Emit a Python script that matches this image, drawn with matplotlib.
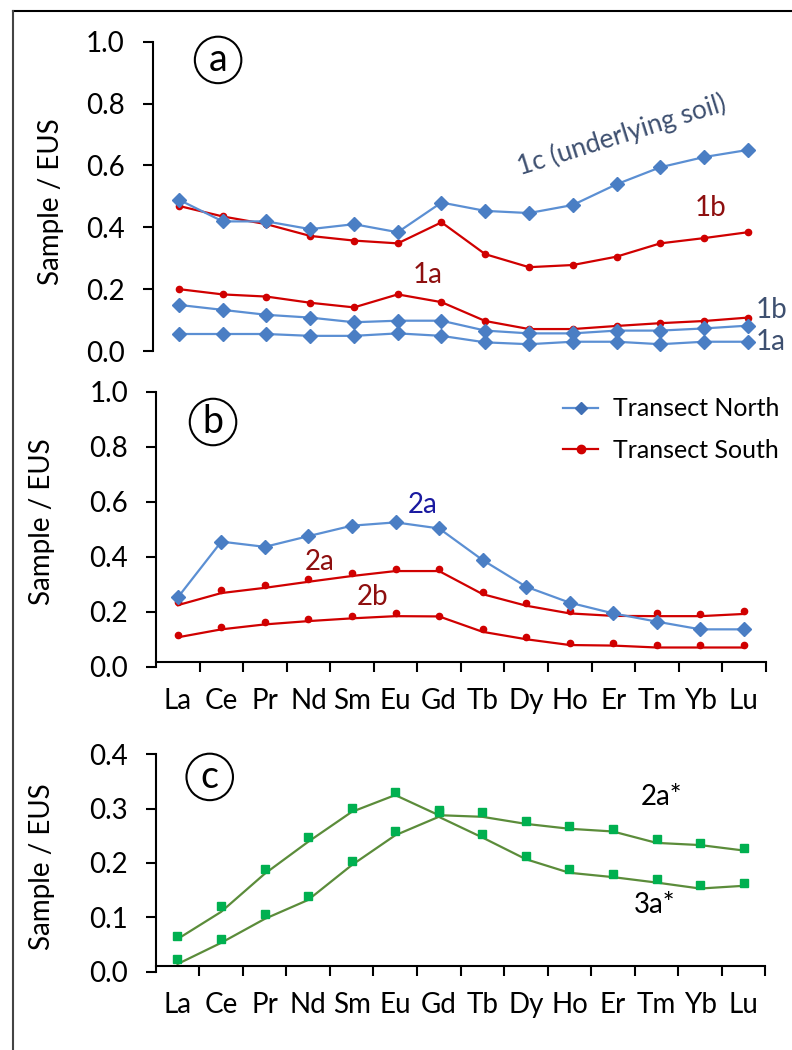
import numpy as np
import matplotlib.pyplot as plt
from matplotlib.lines import Line2D

plt.rcParams['font.family'] = ['Lato', 'DejaVu Sans']

rees = ['La', 'Ce', 'Pr', 'Nd', 'Sm', 'Eu', 'Gd', 'Tb', 'Dy', 'Ho', 'Er', 'Tm', 'Yb', 'Lu']

# panel a
a_north_1c = [0.489, 0.419, 0.419, 0.394, 0.410, 0.384, 0.480, 0.453, 0.446, 0.472, 0.539, 0.594, 0.627, 0.650]
a_north_1b = [0.149, 0.133, 0.117, 0.108, 0.093, 0.098, 0.098, 0.066, 0.057, 0.057, 0.066, 0.066, 0.073, 0.082]
a_north_1a = [0.055, 0.055, 0.055, 0.049, 0.049, 0.057, 0.049, 0.028, 0.022, 0.030, 0.030, 0.022, 0.030, 0.030]
a_south_1b = [0.469, 0.435, 0.410, 0.372, 0.357, 0.348, 0.416, 0.313, 0.271, 0.278, 0.305, 0.348, 0.365, 0.384]
a_south_1a = [0.200, 0.183, 0.176, 0.156, 0.141, 0.183, 0.158, 0.097, 0.071, 0.071, 0.081, 0.090, 0.097, 0.108]

# panel b
b_north_2a = [0.252, 0.455, 0.436, 0.475, 0.513, 0.525, 0.503, 0.388, 0.291, 0.233, 0.194, 0.164, 0.136, 0.136]
b_south_2a_pts = [0.234, 0.279, 0.297, 0.319, 0.340, 0.355, 0.355, 0.273, 0.233, 0.204, 0.188, 0.194, 0.192, 0.204]
b_south_2a_line = [0.224, 0.268, 0.287, 0.309, 0.330, 0.348, 0.348, 0.264, 0.222, 0.194, 0.185, 0.184, 0.184, 0.192]
b_south_2b_pts = [0.115, 0.145, 0.164, 0.173, 0.184, 0.194, 0.184, 0.136, 0.107, 0.087, 0.087, 0.079, 0.079, 0.079]
b_south_2b_line = [0.107, 0.136, 0.154, 0.166, 0.176, 0.184, 0.183, 0.127, 0.100, 0.079, 0.077, 0.070, 0.070, 0.070]

# panel c
c_2a_pts = [0.066, 0.120, 0.189, 0.248, 0.302, 0.331, 0.298, 0.293, 0.278, 0.268, 0.263, 0.244, 0.237, 0.228]
c_2a_line = [0.060, 0.110, 0.180, 0.239, 0.294, 0.325, 0.288, 0.285, 0.272, 0.263, 0.258, 0.237, 0.233, 0.223]
c_3a_pts = [0.023, 0.061, 0.106, 0.140, 0.204, 0.258, 0.294, 0.253, 0.213, 0.189, 0.179, 0.170, 0.160, 0.164]
c_3a_line = [0.014, 0.053, 0.097, 0.132, 0.196, 0.251, 0.285, 0.247, 0.207, 0.182, 0.174, 0.164, 0.153, 0.158]

blue = '#5b8fd3'
blue_mk = '#4a7ec4'
red = '#d00000'
dark_red = '#8e0f0f'
slate = '#3e5070'
green_mk = '#00b050'
green_ln = '#5b8c3a'

fs = 20
x = np.arange(len(rees))

fig = plt.figure(figsize=(7.92, 10.5), dpi=100)
ax_a = fig.add_axes([0.1928, 0.6657, 0.779, 0.2946])
ax_b = fig.add_axes([0.197, 0.365, 0.7698, 0.2619])
ax_c = fig.add_axes([0.1966, 0.0746, 0.7698, 0.207])


def style_axes(ax, ymax, ystep):
    ax.spines['top'].set_visible(False)
    ax.spines['right'].set_visible(False)
    ax.spines['left'].set_linewidth(1.5)
    ax.spines['bottom'].set_linewidth(1.5)
    ax.set_ylim(0, ymax)
    ax.set_yticks(np.arange(0, ymax + 1e-9, ystep))
    ax.yaxis.set_major_formatter('{x:.1f}')
    ax.tick_params(axis='y', direction='out', length=7, width=1.5, labelsize=fs, pad=13)
    ax.set_facecolor('none')


def style_xaxis(ax, off):
    ax.set_xlim(-0.5, 13.5)
    ax.spines['bottom'].set_position(('data', off))
    ax.set_xticks(x)
    ax.set_xticklabels(rees)
    ax.set_xticks(np.arange(0.5, 14, 1), minor=True)
    ax.tick_params(axis='x', which='major', length=0, pad=19, labelsize=fs)
    ax.tick_params(axis='x', which='minor', direction='out', length=7, width=1.5)


def circled(ax, letter, xf, yf):
    ax.text(xf, yf, letter, transform=ax.transAxes, ha='center', va='center', fontsize=27,
            bbox=dict(boxstyle='circle,pad=0.14', fc='white', ec='black', lw=1.5))


# --- a ---
style_axes(ax_a, 1.0, 0.2)
ax_a.spines['bottom'].set_visible(False)
ax_a.set_xlim(-0.6, 13.5)
ax_a.set_xticks([])
for ys in [a_south_1b, a_south_1a]:
    ax_a.plot(x, ys, color=red, lw=1.6, marker='o', ms=4.5, mfc=red, mec=red)
for ys in [a_north_1c, a_north_1b, a_north_1a]:
    ax_a.plot(x, ys, color=blue, lw=1.6, marker='D', ms=7, mfc=blue_mk, mec=blue_mk)
ax_a.set_ylabel('Sample / EUS', fontsize=fs)
ax_a.yaxis.set_label_coords(-0.143, 0.483)
circled(ax_a, 'a', 0.106, 0.941)
ax_a.text(10.13, 0.698, '1c (underlying soil)', color=slate, fontsize=19, rotation=17.4,
          ha='center', va='center')
ax_a.text(12.14, 0.462, '1b', color=dark_red, fontsize=fs, ha='center', va='center')
ax_a.text(5.69, 0.246, '1a', color=dark_red, fontsize=fs, ha='center', va='center')
ax_a.text(13.17, 0.133, '1b', color=slate, fontsize=fs, ha='left', va='center', clip_on=False)
ax_a.text(13.17, 0.029, '1a', color=slate, fontsize=fs, ha='left', va='center', clip_on=False)

# --- b ---
style_axes(ax_b, 1.0, 0.2)
style_xaxis(ax_b, 0.018)
ax_b.plot(x, b_south_2a_line, color=red, lw=1.6)
ax_b.plot(x, b_south_2a_pts, ls='none', marker='o', ms=4.5, color=red)
ax_b.plot(x, b_south_2b_line, color=red, lw=1.6)
ax_b.plot(x, b_south_2b_pts, ls='none', marker='o', ms=4.5, color=red)
ax_b.plot(x, b_north_2a, color=blue, lw=1.6, marker='D', ms=7, mfc=blue_mk, mec=blue_mk)
ax_b.set_ylabel('Sample / EUS', fontsize=fs)
ax_b.yaxis.set_label_coords(-0.166, 0.527)
circled(ax_b, 'b', 0.0935, 0.89)
ax_b.text(5.63, 0.588, '2a', color='#1a1aa0', fontsize=fs, ha='center', va='center')
ax_b.text(3.26, 0.381, '2a', color=dark_red, fontsize=fs, ha='center', va='center')
ax_b.text(4.48, 0.253, '2b', color=dark_red, fontsize=fs, ha='center', va='center')
handles = [Line2D([], [], color=blue, lw=1.6, marker='D', ms=6, mfc='#3f6fb5', mec='#3f6fb5'),
           Line2D([], [], color=red, lw=1.6, marker='o', ms=6, mfc=red, mec=red)]
ax_b.legend(handles, ['Transect North', 'Transect South'], loc='upper left',
            bbox_to_anchor=(0.668, 0.98), frameon=False, fontsize=18, handlelength=1.4,
            handletextpad=0.6, labelspacing=0.75, borderpad=0, borderaxespad=0)

# --- c ---
style_axes(ax_c, 0.4, 0.1)
style_xaxis(ax_c, 0.011)
ax_c.plot(x, c_2a_line, color=green_ln, lw=1.6)
ax_c.plot(x, c_3a_line, color=green_ln, lw=1.6)
ax_c.plot(x, c_2a_pts, ls='none', marker='s', ms=5.5, color=green_mk)
ax_c.plot(x, c_3a_pts, ls='none', marker='s', ms=5.5, color=green_mk)
ax_c.set_ylabel('Sample / EUS', fontsize=fs)
ax_c.yaxis.set_label_coords(-0.166, 0.483)
circled(ax_c, 'c', 0.0886, 0.896)
ax_c.text(11.12, 0.321, '2a*', color='black', fontsize=fs, ha='center', va='center')
ax_c.text(10.96, 0.122, '3a*', color='black', fontsize=fs, ha='center', va='center')

# outer frame (top and left edges only visible in the crop)
fig.add_artist(Line2D([13 / 792, 1], [1 - 11 / 1050, 1 - 11 / 1050], color='black', lw=1.5))
fig.add_artist(Line2D([13 / 792, 13 / 792], [0, 1 - 11 / 1050], color='#444444', lw=1.5))

fig.savefig('out.png', dpi=100)
